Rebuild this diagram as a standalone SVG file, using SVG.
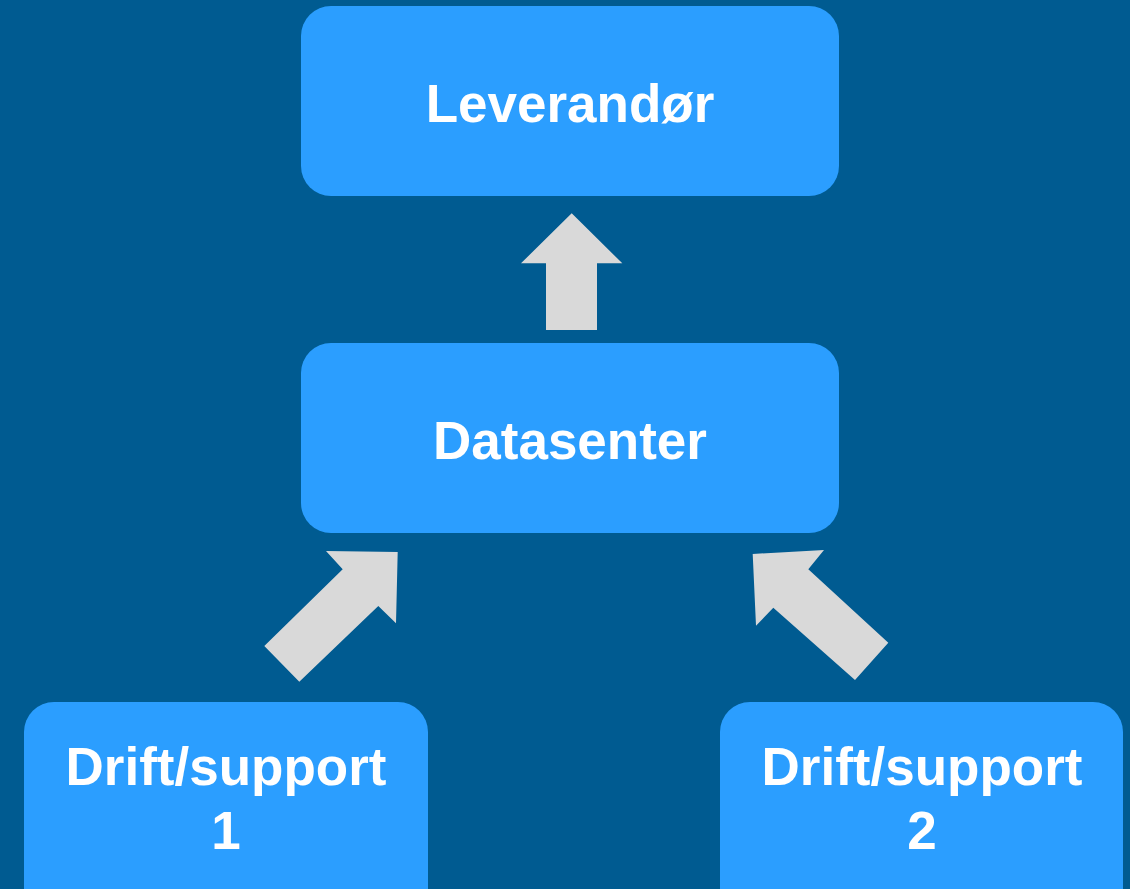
<svg xmlns="http://www.w3.org/2000/svg" width="1130" height="889" viewBox="0 0 1130 889">
<style>
.box{fill:#2B9EFF;}
.lbl{font-family:"Liberation Sans",Arial,sans-serif;font-weight:bold;font-size:53px;fill:#FFFFFF;text-anchor:middle;}
.arr{fill:#D9D9D9;}
</style>
<rect x="0" y="0" width="1130" height="889" fill="#005B91"/>
<g id="connectors">
<polygon class="arr" points="571.7,213.3 622.3,263.3 597,263.3 597,330 546,330 546,263.3 521,263.3"/>
<polygon class="arr" points="397.7,552 396,623.3 378.3,606 299.3,681.7 264.3,646 342.7,569.3 326,551"/>
<polygon class="arr" points="752.7,554 824,550 808.3,569.3 888.3,642.7 855,680 773.3,607.7 756,625.7"/>
</g>
<g id="leverandor">
<rect class="box" x="301" y="6" width="538" height="190" rx="30"/>
<text class="lbl" x="570" y="122">Leverandør</text>
</g>
<g id="datasenter">
<rect class="box" x="301" y="343" width="538" height="190" rx="30"/>
<text class="lbl" x="570" y="459">Datasenter</text>
</g>
<g id="drift1">
<rect class="box" x="24" y="702" width="404" height="220" rx="30"/>
<text class="lbl" x="226" y="785">Drift/support</text>
<text class="lbl" x="226" y="849">1</text>
</g>
<g id="drift2">
<rect class="box" x="720" y="702" width="403" height="220" rx="30"/>
<text class="lbl" x="922" y="785">Drift/support</text>
<text class="lbl" x="922" y="849">2</text>
</g>
</svg>
